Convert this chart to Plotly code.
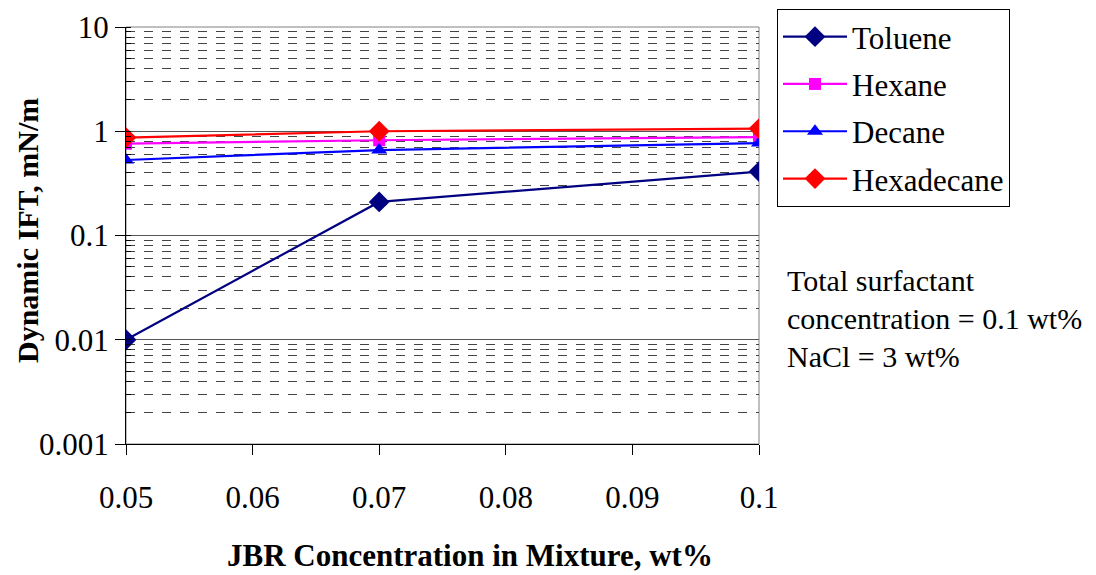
import plotly.graph_objects as go

jbr = [0.05, 0.07, 0.1]
toluene = [0.01, 0.21, 0.41]
hexane = [0.76, 0.82, 0.88]
decane = [0.53, 0.66, 0.77]
hexadecane = [0.87, 1.0, 1.06]

series = [
    ("Toluene", toluene, "#000080", "diamond", 16),
    ("Hexane", hexane, "#FF00FF", "square", 12),
    ("Decane", decane, "#0000FF", "triangle-up", 14),
    ("Hexadecane", hexadecane, "#FF0000", "diamond", 16),
]

ytickvals = [0.001, 0.01, 0.1, 1, 10]
yticktext = ["0.001", "0.01", "0.1", "1", "10"]
xtickvals = [0.05, 0.06, 0.07, 0.08, 0.09, 0.1]
xticktext = ["0.05", "0.06", "0.07", "0.08", "0.09", "0.1"]

FONT = "Liberation Serif"

fig = go.Figure()
for name, vals, color, sym, size in series:
    fig.add_trace(go.Scatter(
        x=jbr, y=vals, name=name, mode="lines+markers", legendgroup=name,
        line=dict(color=color, width=2.2),
        marker=dict(symbol=sym, size=size, color=color),
    ))

L, R, T, B = 126, 759, 27, 444
W, H = 1096, 575

def px(xp):
    return (xp - L) / (R - L)

def py(yp):
    return (B - yp) / (B - T)

fig.update_layout(
    width=W, height=H,
    margin=dict(l=L, r=W - R, t=T, b=H - B, pad=0, autoexpand=False),
    paper_bgcolor="white", plot_bgcolor="white",
    font=dict(family=FONT, size=30, color="black"),
    showlegend=True,
    legend=dict(
        x=px(777), y=py(9), xanchor="left", yanchor="top",
        bordercolor="black", borderwidth=1, bgcolor="white",
        font=dict(family=FONT, size=31, color="black"),
        itemwidth=64, tracegroupgap=4,
    ),
    xaxis=dict(
        range=[0.05, 0.1], tickvals=xtickvals, ticktext=xticktext,
        showgrid=False, zeroline=False,
        showline=True, linecolor="black", linewidth=1,
        ticks="outside", ticklen=10, tickcolor="black",
        ticklabelstandoff=16,
        tickfont=dict(family=FONT, size=31),
    ),
    yaxis=dict(
        type="log", range=[-3, 1], tickvals=ytickvals, ticktext=yticktext,
        showgrid=True, gridcolor="#555555", gridwidth=1,
        zeroline=False,
        showline=True, linecolor="black", linewidth=1,
        ticks="outside", ticklen=10, tickcolor="black",
        ticklabelstandoff=0,
        tickfont=dict(family=FONT, size=31),
        minor=dict(dtick="D1", showgrid=True, gridcolor="#444444", griddash="dash",
                   gridwidth=1, ticks="inside", ticklen=5, tickcolor="black"),
    ),
    shapes=[dict(type="rect", xref="paper", yref="paper", x0=0, x1=1, y0=0, y1=1,
                 line=dict(color="#808080", width=1), layer="below")],
)

fig.add_annotation(
    x=px(470), y=py(555), xref="paper", yref="paper", xanchor="center", yanchor="middle",
    text="<b>JBR Concentration in Mixture, wt%</b>", showarrow=False,
    font=dict(family=FONT, size=31, color="black"),
)
fig.add_annotation(
    x=px(28), y=py(231), xref="paper", yref="paper", xanchor="center", yanchor="middle",
    text="<b>Dynamic IFT, mN/m</b>", showarrow=False, textangle=-90,
    font=dict(family=FONT, size=30, color="black"),
)

notes = ["Total surfactant", "concentration = 0.1 wt%", "NaCl = 3 wt%"]
for txt, ypix in zip(notes, [280, 318, 356]):
    fig.add_annotation(
        x=px(785), y=py(ypix), xref="paper", yref="paper",
        xanchor="left", yanchor="middle", text=txt, showarrow=False,
        font=dict(family=FONT, size=30, color="black"),
    )

fig.write_html("out.html", config={"displayModeBar": False},
               post_script="document.body.style.margin='0';")
